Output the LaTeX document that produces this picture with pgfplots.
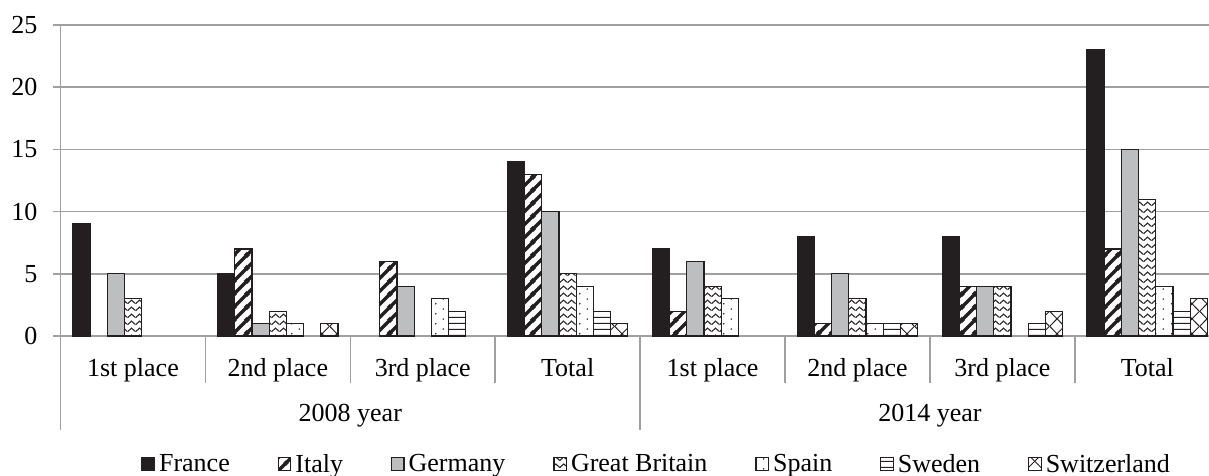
\documentclass[border=0pt]{standalone}
\usepackage{fontspec}
\setmainfont{Liberation Serif}
\usepackage{pgfplots}
\pgfplotsset{compat=1.18}
\usetikzlibrary{patterns,calc}
\definecolor{gridgray}{HTML}{A0A0A0}
\definecolor{barblack}{HTML}{231F20}
\definecolor{bargray}{HTML}{BCBEC0}

% Italy: thick diagonal stripes
\pgfdeclarepatternformonly{italypat}{\pgfqpoint{0pt}{0pt}}{\pgfqpoint{6.5pt}{6.5pt}}{\pgfqpoint{6.5pt}{6.5pt}}{%
  \pgfsetlinewidth{1.8pt}%
  \pgfpathmoveto{\pgfqpoint{-1pt}{-1pt}}\pgfpathlineto{\pgfqpoint{7.5pt}{7.5pt}}%
  \pgfpathmoveto{\pgfqpoint{-3.25pt}{3.25pt}}\pgfpathlineto{\pgfqpoint{3.25pt}{9.75pt}}%
  \pgfpathmoveto{\pgfqpoint{3.25pt}{-3.25pt}}\pgfpathlineto{\pgfqpoint{9.75pt}{3.25pt}}%
  \pgfusepath{stroke}}
% Great Britain: zigzag
\pgfdeclarepatternformonly{gbpat}{\pgfqpoint{0pt}{0pt}}{\pgfqpoint{4pt}{3.4pt}}{\pgfqpoint{4pt}{3.4pt}}{%
  \pgfsetlinewidth{0.55pt}%
  \pgfpathmoveto{\pgfqpoint{-0.2pt}{0.7pt}}\pgfpathlineto{\pgfqpoint{2pt}{2.5pt}}\pgfpathlineto{\pgfqpoint{4.2pt}{0.7pt}}%
  \pgfusepath{stroke}}
% Spain: dots
\pgfdeclarepatternformonly{spainpat}{\pgfqpoint{0pt}{0pt}}{\pgfqpoint{8pt}{5pt}}{\pgfqpoint{8pt}{5pt}}{%
  \pgfpathcircle{\pgfqpoint{2pt}{1.25pt}}{0.45pt}%
  \pgfpathcircle{\pgfqpoint{6pt}{3.75pt}}{0.45pt}%
  \pgfusepath{fill}}
% Sweden: horizontal lines
\pgfdeclarepatternformonly{swedenpat}{\pgfqpoint{0pt}{0pt}}{\pgfqpoint{3pt}{3pt}}{\pgfqpoint{3pt}{3pt}}{%
  \pgfsetlinewidth{0.6pt}%
  \pgfpathmoveto{\pgfqpoint{-0.5pt}{1.5pt}}\pgfpathlineto{\pgfqpoint{3.5pt}{1.5pt}}%
  \pgfusepath{stroke}}
% Switzerland: diagonal crosshatch
\pgfdeclarepatternformonly{swisspat}{\pgfqpoint{0pt}{0pt}}{\pgfqpoint{7.5pt}{7.5pt}}{\pgfqpoint{7.5pt}{7.5pt}}{%
  \pgfsetlinewidth{0.5pt}%
  \pgfpathmoveto{\pgfqpoint{-0.5pt}{-0.5pt}}\pgfpathlineto{\pgfqpoint{8pt}{8pt}}%
  \pgfpathmoveto{\pgfqpoint{-0.5pt}{8pt}}\pgfpathlineto{\pgfqpoint{8pt}{-0.5pt}}%
  \pgfusepath{stroke}}

\begin{document}
\fontsize{13}{15.6}\selectfont
\begin{tikzpicture}
\begin{axis}[
  name=ax,
  scale only axis,
  width=574.25pt, height=155.5pt,
  xmin=-0.5, xmax=7.426, ymin=0, ymax=25,
  ybar=0pt, bar width=8.6pt,
  axis x line*=bottom, axis y line*=left,
  axis line style={draw=gridgray, line width=0.75pt, -},
  ytick={0,5,10,15,20,25},
  ymajorgrids, grid style={draw=gridgray, line width=0.75pt},
  tick align=outside, major tick length=3.5pt,
  ytick style={draw=gridgray, line width=0.75pt},
  xtick={0,1,2,3,4,5,6,7},
  xticklabels={1st place,2nd place,3rd place,Total,1st place,2nd place,3rd place,Total},
  xtick style={draw=none},
  xticklabel style={anchor=base, yshift=-16.5pt},
  yticklabel style={anchor=east, xshift=-3.5pt},
  /pgf/number format/assume math mode=true,
  tick label style={font=\fontsize{13}{15.6}\selectfont},
  legend columns=-1,
  legend image code/.code={\draw[#1] (0pt,-2.6pt) rectangle (6.2pt,3.6pt);},
  legend style={draw=none, at={(0.52,0)}, anchor=center, yshift=-64.5pt,
    font=\fontsize{13}{15.6}\selectfont,
    /tikz/every even column/.append style={column sep=22pt}},
  clip=false,
]
\addplot[draw=barblack, fill=barblack, line width=0.6pt]
  coordinates {(0,9) (1,5) (3,14) (4,7) (5,8) (6,8) (7,23)};
\addlegendentry{France}
\addplot[draw=barblack, line width=0.6pt, preaction={fill=white}, pattern=italypat, pattern color=barblack]
  coordinates {(1,7) (2,6) (3,13) (4,2) (5,1) (6,4) (7,7)};
\addlegendentry{Italy}
\addplot[draw=barblack, fill=bargray, line width=0.6pt]
  coordinates {(0,5) (1,1) (2,4) (3,10) (4,6) (5,5) (6,4) (7,15)};
\addlegendentry{Germany}
\addplot[draw=barblack, line width=0.6pt, preaction={fill=white}, pattern=gbpat, pattern color=barblack]
  coordinates {(0,3) (1,2) (3,5) (4,4) (5,3) (6,4) (7,11)};
\addlegendentry{Great Britain}
\addplot[draw=barblack, line width=0.6pt, preaction={fill=white}, pattern=spainpat, pattern color=barblack]
  coordinates {(1,1) (2,3) (3,4) (4,3) (5,1) (7,4)};
\addlegendentry{Spain}
\addplot[draw=barblack, line width=0.6pt, preaction={fill=white}, pattern=swedenpat, pattern color=barblack]
  coordinates {(2,2) (3,2) (5,1) (6,1) (7,2)};
\addlegendentry{Sweden}
\addplot[draw=barblack, line width=0.6pt, preaction={fill=white}, pattern=swisspat, pattern color=barblack]
  coordinates {(1,1) (3,1) (5,1) (6,2) (7,3)};
\addlegendentry{Switzerland}

% category separators
\draw[gridgray, line width=0.75pt] (axis cs:0.5,0) -- ++(0pt,-23.4pt);
\draw[gridgray, line width=0.75pt] (axis cs:1.5,0) -- ++(0pt,-23.4pt);
\draw[gridgray, line width=0.75pt] (axis cs:2.5,0) -- ++(0pt,-23.4pt);
\draw[gridgray, line width=0.75pt] (axis cs:4.5,0) -- ++(0pt,-23.4pt);
\draw[gridgray, line width=0.75pt] (axis cs:5.5,0) -- ++(0pt,-23.4pt);
\draw[gridgray, line width=0.75pt] (axis cs:6.5,0) -- ++(0pt,-23.4pt);
\draw[gridgray, line width=0.75pt] (axis cs:-0.5,0) -- ++(0pt,-47pt);
\draw[gridgray, line width=0.75pt] (axis cs:3.5,0) -- ++(0pt,-47pt);
% group labels
\node[anchor=base] at ($(axis cs:1.5,0)+(0pt,-42.8pt)$) {2008 year};
\node[anchor=base] at ($(axis cs:5.5,0)+(0pt,-42.8pt)$) {2014 year};
\end{axis}
\pgfresetboundingbox
\path ($(ax.south west)+(-30.25pt,-70pt)$) rectangle ($(ax.north east)+(0pt,12.5pt)$);
\end{tikzpicture}
\end{document}
